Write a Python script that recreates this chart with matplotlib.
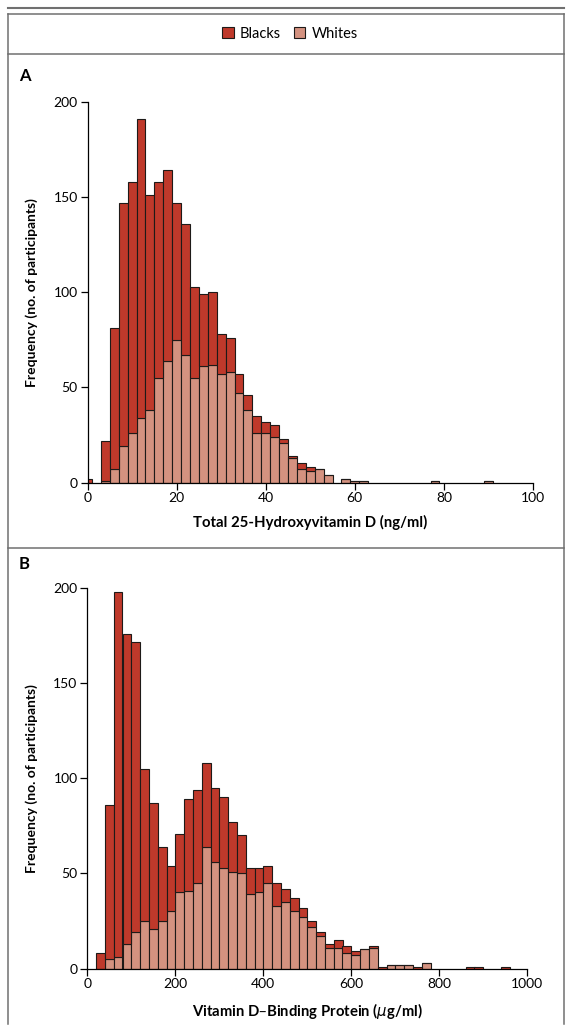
import matplotlib
matplotlib.use("Agg")
import matplotlib.pyplot as plt
from matplotlib.lines import Line2D
from matplotlib.patches import Patch

plt.rcParams['font.family'] = ['Lato', 'DejaVu Sans']

# Panel A: total 25-hydroxyvitamin D, bins of 2 ng/ml (bin centers)
vitd_bins = [0, 4, 6, 8, 10, 12, 14, 16, 18, 20, 22, 24, 26, 28, 30, 32, 34, 36,
             38, 40, 42, 44, 46, 48, 50, 52, 54, 58, 60, 62, 78, 90]
vitd_whites = [0, 1, 7, 19, 26, 34, 38, 55, 64, 75, 67, 55, 61, 62, 57, 58, 47, 38,
               26, 26, 24, 21, 13, 7, 6, 7, 4, 2, 1, 1, 1, 1]
vitd_blacks = [2, 21, 74, 128, 132, 157, 113, 103, 100, 72, 69, 48, 38, 38, 21, 18, 10, 8,
               9, 6, 6, 2, 1, 3, 2, 0, 0, 0, 0, 0, 0, 0]

# Panel B: vitamin D-binding protein, bins of 20 ug/ml (left edges)
dbp_bins = [20, 40, 60, 80, 100, 120, 140, 160, 180, 200, 220, 240, 260, 280, 300,
            320, 340, 360, 380, 400, 420, 440, 460, 480, 500, 520, 540, 560, 580, 600,
            620, 640, 660, 680, 700, 720, 740, 760, 860, 880, 940]
dbp_whites = [0, 5, 6, 13, 19, 25, 21, 25, 30, 40, 41, 45, 64, 56, 53,
              51, 50, 39, 40, 45, 33, 35, 30, 27, 22, 17, 11, 11, 8, 7,
              10, 11, 0, 2, 2, 2, 0, 3, 0, 0, 0]
dbp_blacks = [8, 81, 192, 163, 153, 80, 66, 39, 24, 31, 48, 49, 44, 39, 37,
              26, 20, 14, 13, 9, 12, 7, 7, 5, 3, 2, 2, 4, 4, 2,
              0, 1, 1, 0, 0, 0, 1, 0, 1, 1, 1]

red = '#BF392B'
salmon = '#D49280'
edge = '#1e1a18'
border = '#707070'

W, H = 572, 1032
fig = plt.figure(figsize=(W / 100, H / 100), dpi=100)


def fx(x):
    return x / W


def fy(y):
    return 1 - y / H


# frame lines around the figure
def hline(x0, x1, y, lw=1.1):
    fig.add_artist(Line2D([fx(x0), fx(x1)], [fy(y), fy(y)], color=border, lw=lw,
                          transform=fig.transFigure))


def vline(x, y0, y1):
    fig.add_artist(Line2D([fx(x), fx(x)], [fy(y0), fy(y1)], color=border, lw=1.1,
                          transform=fig.transFigure))


hline(8, 564, 7.5, lw=1.5)
hline(8, 564, 14)
hline(8, 564, 53.5)
hline(8, 564, 547.5)
vline(8, 14, 1024)
vline(564, 14, 1024)

handles = [Patch(facecolor=red, edgecolor=edge, lw=0.8, label='Blacks'),
           Patch(facecolor=salmon, edgecolor=edge, lw=0.8, label='Whites')]
fig.legend(handles=handles, loc='center', bbox_to_anchor=(fx(290), fy(33.5)), ncol=2,
           frameon=False, fontsize=10.5, handlelength=0.8, handleheight=0.8,
           handletextpad=0.45, columnspacing=0.85)

ax_a = fig.add_axes([fx(87.5), fy(482.5), (533 - 87.5) / W, (482.5 - 102) / H])
ax_b = fig.add_axes([fx(87.3), fy(968.5), (527.3 - 87.3) / W, (968.5 - 588.3) / H])

ax_a.bar(vitd_bins, vitd_whites, width=2, align='center', color=salmon,
         edgecolor=edge, lw=0.8)
ax_a.bar(vitd_bins, vitd_blacks, width=2, align='center', bottom=vitd_whites,
         color=red, edgecolor=edge, lw=0.8)
ax_a.set_xlim(0, 100)
ax_a.set_xticks([0, 20, 40, 60, 80, 100])
ax_a.set_xlabel('Total 25-Hydroxyvitamin D (ng/ml)', fontsize=10.7, fontweight='bold',
                labelpad=8)

ax_b.bar(dbp_bins, dbp_whites, width=20, align='edge', color=salmon,
         edgecolor=edge, lw=0.8)
ax_b.bar(dbp_bins, dbp_blacks, width=20, align='edge', bottom=dbp_whites,
         color=red, edgecolor=edge, lw=0.8)
ax_b.set_xlim(0, 1000)
ax_b.set_xticks([0, 200, 400, 600, 800, 1000])
ax_b.set_xlabel('Vitamin D\u2013Binding Protein ($\\mathit{\\mu}$g/ml)', fontsize=10.7,
                fontweight='bold', labelpad=8)

for ax, letter in [(ax_a, 'A'), (ax_b, 'B')]:
    ax.set_ylim(0, 200)
    ax.set_yticks([0, 50, 100, 150, 200])
    ax.spines['top'].set_visible(False)
    ax.spines['right'].set_visible(False)
    for s in ['left', 'bottom']:
        ax.spines[s].set_linewidth(0.9)
    ax.tick_params(direction='out', length=5, width=0.9, labelsize=10, pad=2)
    ax.set_ylabel('Frequency (no. of participants)', fontsize=10, fontweight='bold',
                  labelpad=11)

fig.text(fx(19), fy(76), 'A', fontsize=12, fontweight='bold', va='center')
fig.text(fx(19), fy(564), 'B', fontsize=12, fontweight='bold', va='center')

plt.savefig('out.png', dpi=100)
